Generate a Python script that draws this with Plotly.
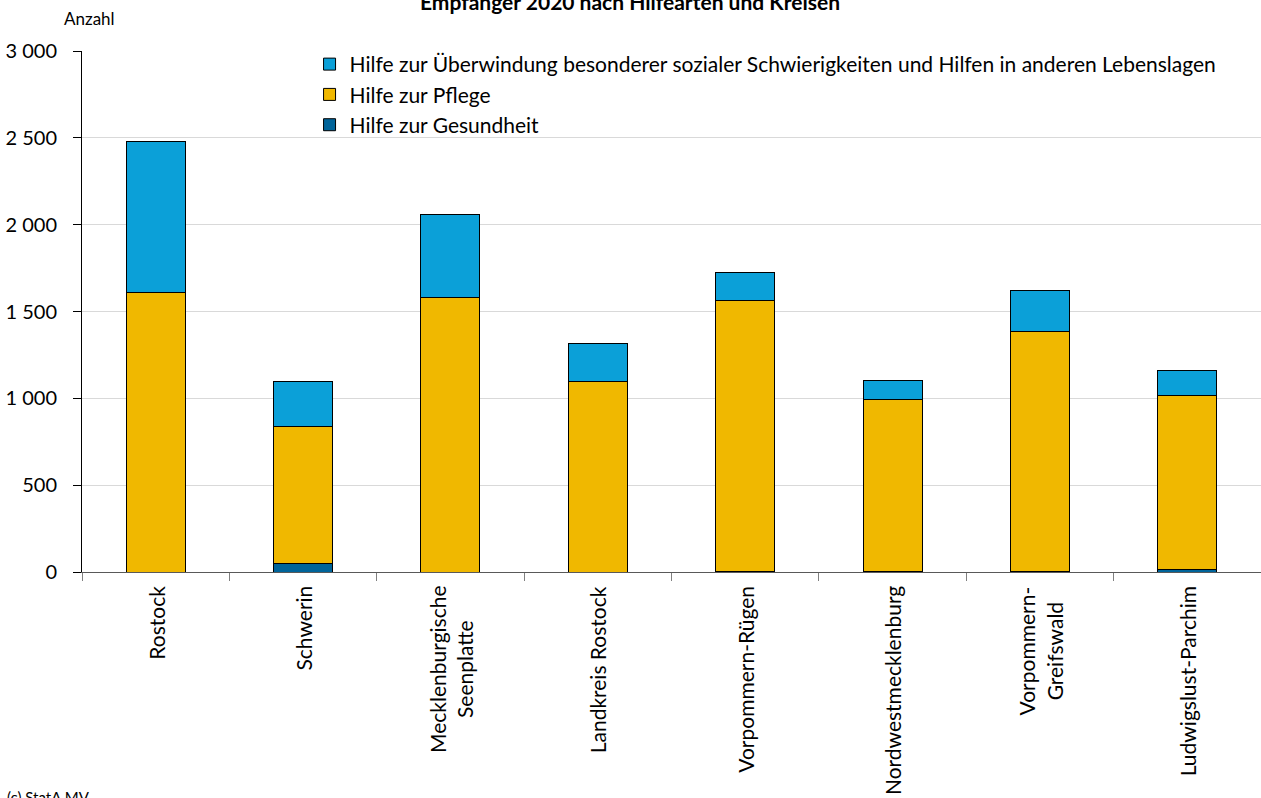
import plotly.graph_objects as go

categories = ["Rostock", "Schwerin", "Mecklenburgische<br>Seenplatte", "Landkreis Rostock",
              "Vorpommern-Rügen", "Nordwestmecklenburg", "Vorpommern-<br>Greifswald",
              "Ludwigslust-Parchim"]
gesundheit = [0, 50, 0, 0, 3, 3, 3, 12]
pflege = [1607, 789, 1582, 1096, 1558, 989, 1384, 1005]
ueberwindung = [874, 257, 475, 218, 165, 110, 234, 146]

series_names = ["Hilfe zur Gesundheit", "Hilfe zur Pflege",
                "Hilfe zur Überwindung besonderer sozialer Schwierigkeiten und Hilfen in anderen Lebenslagen"]
series_colors = ["#00649A", "#F0B800", "#0BA0D8"]

title_text = "Empfänger 2020 nach Hilfearten und Kreisen"
y_title = "Anzahl"
source_text = "(c) StatA MV"

FONT = "Lato"

fig = go.Figure()
for name, vals, col in zip(series_names, [gesundheit, pflege, ueberwindung], series_colors):
    fig.add_trace(go.Bar(
        x=categories, y=vals, name=name,
        marker=dict(color=col, line=dict(color="#000000", width=1)),
    ))

fig.update_layout(
    width=1261, height=798,
    barmode="stack", bargap=0.6,
    plot_bgcolor="white", paper_bgcolor="white",
    separators=", ",
    font=dict(family=FONT, size=19, color="#000000"),
    margin=dict(l=82, r=0, t=51, b=226, pad=0),
    showlegend=True,
    legend=dict(
        x=0.193, y=1.0135, xanchor="left", yanchor="top",
        traceorder="reversed", itemwidth=30,
        bgcolor="rgba(0,0,0,0)", font=dict(family=FONT, size=21),
        tracegroupgap=0, itemclick=False,
    ),
)

fig.update_yaxes(
    range=[0, 3000], dtick=500, tickformat=",d",
    showgrid=True, gridcolor="#D9D9D9", gridwidth=1,
    showline=True, linecolor="#000000", linewidth=1,
    ticks="outside", ticklen=8, tickcolor="#000000",
    ticklabelstandoff=12,
    tickfont=dict(family=FONT, size=20),
    zeroline=False,
)
fig.update_xaxes(
    showline=True, linecolor="#595959", linewidth=1,
    ticks="outside", ticklen=8, tickcolor="#808080", tickson="boundaries",
    showticklabels=False, showgrid=False,
)

for cat in categories:
    fig.add_annotation(
        x=cat, y=0, xref="x", yref="y", text=cat, textangle=-90,
        xanchor="center", yanchor="top", yshift=-12, align="center",
        showarrow=False, font=dict(family=FONT, size=21),
    )

fig.add_annotation(
    x=(62 - 82) / 1179, y=(572 - 18) / 521, xref="paper", yref="paper",
    text=y_title, xanchor="left", yanchor="middle", showarrow=False,
    font=dict(family=FONT, size=17),
)
fig.add_annotation(
    x=0.465, y=(572 - 1) / 521, xref="paper", yref="paper",
    text="<b>" + title_text + "</b>", xanchor="center", yanchor="middle", showarrow=False,
    font=dict(family=FONT, size=21),
)
fig.add_annotation(
    x=(5 - 82) / 1179, y=(572 - 797) / 521, xref="paper", yref="paper",
    text=source_text, xanchor="left", yanchor="middle", showarrow=False,
    font=dict(family=FONT, size=15),
)

fig.write_html("out.html")
